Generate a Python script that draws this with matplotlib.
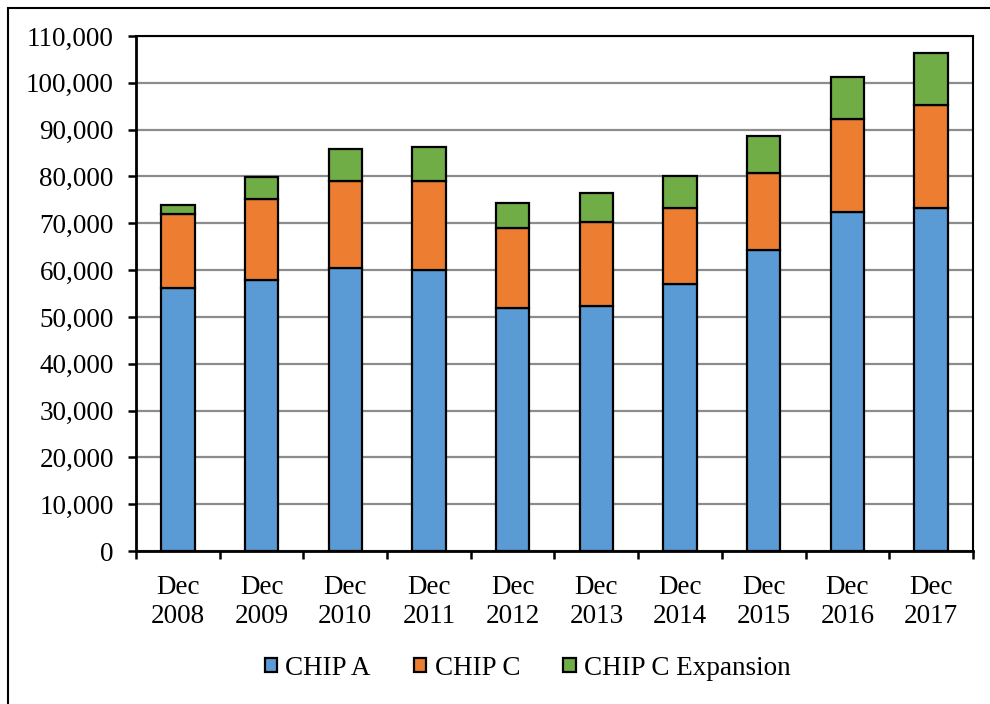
import matplotlib
matplotlib.use("Agg")
import matplotlib.pyplot as plt
from matplotlib.patches import Rectangle
from matplotlib.ticker import FuncFormatter, FixedLocator
import numpy as np

plt.rcParams['font.family'] = ['Liberation Serif', 'DejaVu Serif']

# data
categories = ['Dec\n2008', 'Dec\n2009', 'Dec\n2010', 'Dec\n2011', 'Dec\n2012',
              'Dec\n2013', 'Dec\n2014', 'Dec\n2015', 'Dec\n2016', 'Dec\n2017']
chip_a = [56200, 57900, 60400, 60000, 52000, 52400, 57000, 64300, 72400, 73300]
chip_c = [15800, 17300, 18700, 19100, 17000, 17800, 16200, 16500, 19800, 21900]
chip_c_exp = [2000, 4700, 6700, 7100, 5400, 6300, 6800, 7900, 9000, 11100]

series_names = ['CHIP A', 'CHIP C', 'CHIP C Expansion']
colors = ['#5B9BD5', '#ED7D31', '#70AD47']

fig = plt.figure(figsize=(9.9, 7.04), dpi=100)
ax = fig.add_axes([0.1374, 0.2173, 0.8454, 0.7316])

x = np.arange(len(categories))
bottom = np.zeros(len(categories))
for vals, name, col in zip([chip_a, chip_c, chip_c_exp], series_names, colors):
    ax.bar(x, vals, width=0.4, bottom=bottom, color=col, edgecolor='black',
           linewidth=1.6, label=name, zorder=3)
    bottom += np.array(vals)

ax.set_xlim(-0.5, len(categories) - 0.5)
ax.set_ylim(0, 110000)
ax.set_yticks(np.arange(0, 110001, 10000))
ax.yaxis.set_major_formatter(FuncFormatter(lambda v, p: f'{int(v):,}'))
ax.grid(axis='y', color='#8c8c8c', linewidth=1.6, zorder=0)

ax.set_xticks(x)
ax.set_xticklabels(categories, linespacing=1.25)
ax.xaxis.set_minor_locator(FixedLocator(np.arange(-0.5, len(categories), 1.0)))
ax.tick_params(axis='x', which='major', length=0, pad=17, labelsize=19.5)
ax.tick_params(axis='x', which='minor', length=6, width=1.8, direction='out')
ax.tick_params(axis='y', length=6, width=1.8, direction='out', pad=10, labelsize=19.5)

for side in ['left', 'bottom']:
    ax.spines[side].set_linewidth(2.0)
for side in ['top', 'right']:
    ax.spines[side].set_linewidth(1.5)

fig.legend(loc='center', bbox_to_anchor=(0.533, 0.051), ncol=3, frameon=False,
           fontsize=19.5, handlelength=0.45, handleheight=0.45, handletextpad=0.3,
           columnspacing=1.6)

# outer chart border (cropped at right/bottom in the reference)
fig.patches.append(Rectangle((8 / 990, -0.1), 1.2, (704 - 8) / 704 + 0.1,
                             transform=fig.transFigure, fill=False,
                             edgecolor='black', linewidth=1.5))

fig.savefig('out.png', dpi=100)
